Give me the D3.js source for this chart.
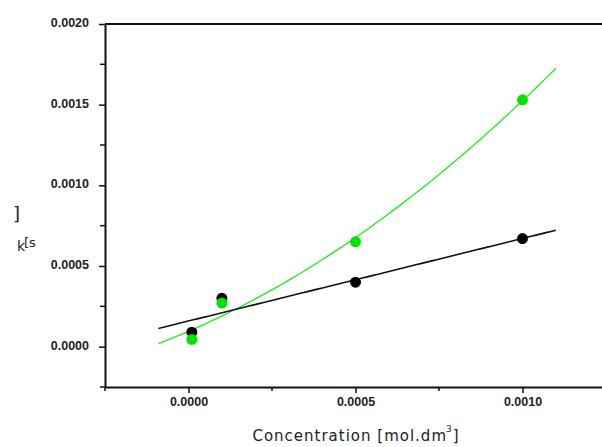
<!DOCTYPE html>
<html>
<head>
<meta charset="utf-8">
<script src="https://cdn.jsdelivr.net/npm/d3@7"></script>
<style>
  html, body { margin: 0; padding: 0; background: #fff; }
  svg { display: block; }
  .tick text { font-family: "Liberation Sans", Arial, sans-serif; font-weight: bold; font-size: 12.5px; fill: #222; }
</style>
</head>
<body>
<svg id="chart" width="602" height="447"></svg>
<script>
// Concentration (mol/dm^3) for each measurement
const concentration = [0.00001, 0.0001, 0.0005, 0.0010];
// Rate constants k (s^-1) for the two series
const kBlack = [0.00009, 0.00030, 0.00040, 0.00067];
const kGreen = [0.000045, 0.00027, 0.00065, 0.00153];

// Axis ticks and labels
const xMajorTicks = [0, 0.0005, 0.0010];
const xTickLabels = ["0.0000", "0.0005", "0.0010"];
const xMinorTicks = [-0.00025, 0.00025, 0.00075];
const yMajorTicks = [0, 0.0005, 0.0010, 0.0015, 0.0020];
const yTickLabels = ["0.0000", "0.0005", "0.0010", "0.0015", "0.0020"];
const yMinorTicks = [-0.00025, 0.00025, 0.00075, 0.00125, 0.00175];

// Range covered by the fitted curves
const fitRange = [-0.00009, 0.0011];

const svg = d3.select("#chart");

const x = d3.scaleLinear().domain([-0.00025, 0.00125]).range([105, 606]);
const y = d3.scaleLinear().domain([-0.00025, 0.0020]).range([387, 24]);

// Least-squares polynomial fit (degree n) of ys on xs; returns coefficient array
function polyFit(xs, ys, n) {
  const m = n + 1;
  const A = Array.from({length: m}, () => new Array(m + 1).fill(0));
  xs.forEach((xv, i) => {
    for (let r = 0; r < m; r++) {
      for (let c = 0; c < m; c++) A[r][c] += Math.pow(xv, r + c);
      A[r][m] += ys[i] * Math.pow(xv, r);
    }
  });
  for (let p = 0; p < m; p++) {
    let best = p;
    for (let r = p + 1; r < m; r++) if (Math.abs(A[r][p]) > Math.abs(A[best][p])) best = r;
    [A[p], A[best]] = [A[best], A[p]];
    for (let r = 0; r < m; r++) {
      if (r === p) continue;
      const f = A[r][p] / A[p][p];
      for (let c = p; c <= m; c++) A[r][c] -= f * A[p][c];
    }
  }
  return A.map((row, i) => row[m] / row[i]);
}
const evalPoly = (coef, xv) => coef.reduce((s, c, i) => s + c * Math.pow(xv, i), 0);

const blackFit = polyFit(concentration, kBlack, 1);
const greenFit = polyFit(concentration, kGreen, 2);

const samples = d3.range(0, 81).map(i => fitRange[0] + (fitRange[1] - fitRange[0]) * i / 80);
const line = d3.line().x(d => x(d[0])).y(d => y(d[1]));

// Fitted curves
svg.append("path")
  .datum(samples.map(v => [v, evalPoly(greenFit, v)]))
  .attr("d", line).attr("fill", "none")
  .attr("stroke", "#19f019").attr("stroke-width", 1.3);
svg.append("path")
  .datum(samples.map(v => [v, evalPoly(blackFit, v)]))
  .attr("d", line).attr("fill", "none")
  .attr("stroke", "#111").attr("stroke-width", 1.6);

// Data points
svg.append("g").selectAll("circle")
  .data(concentration.map((c, i) => [c, kBlack[i]]))
  .join("circle")
  .attr("cx", d => x(d[0])).attr("cy", d => y(d[1])).attr("r", 5.5)
  .attr("fill", "#000");
svg.append("g").selectAll("circle")
  .data(concentration.map((c, i) => [c, kGreen[i]]))
  .join("circle")
  .attr("cx", d => x(d[0])).attr("cy", d => y(d[1])).attr("r", 5.5)
  .attr("fill", "#00e400");

// Top frame line
svg.append("line")
  .attr("x1", x.range()[0]).attr("x2", 602)
  .attr("y1", y(0.0020)).attr("y2", y(0.0020))
  .attr("stroke", "#111").attr("stroke-width", 2);

// Y axis
const yAxis = svg.append("g").attr("transform", `translate(${x.range()[0]},0)`)
  .call(d3.axisLeft(y).tickValues(yMajorTicks)
    .tickFormat((d, i) => yTickLabels[i]).tickSize(6).tickSizeOuter(0).tickPadding(10));
yAxis.append("g").selectAll("line").data(yMinorTicks).join("line")
  .attr("x1", 0).attr("x2", -5).attr("y1", d => y(d)).attr("y2", d => y(d))
  .attr("stroke", "#111").attr("stroke-width", 1.5);
yAxis.selectAll(".tick text").attr("dy", "0.2em");

// X axis
const xAxis = svg.append("g").attr("transform", `translate(0,${y.range()[0]})`)
  .call(d3.axisBottom(x).tickValues(xMajorTicks)
    .tickFormat((d, i) => xTickLabels[i]).tickSize(6).tickSizeOuter(0).tickPadding(4));
xAxis.append("g").selectAll("line").data(xMinorTicks).join("line")
  .attr("x1", d => x(d)).attr("x2", d => x(d)).attr("y1", 0).attr("y2", 4)
  .attr("stroke", "#111").attr("stroke-width", 1.5);

svg.selectAll(".domain").attr("stroke", "#111").attr("stroke-width", 2);
svg.selectAll(".tick line").attr("stroke", "#111").attr("stroke-width", 1.5);

// Axis titles
const xTitle = svg.append("text")
  .attr("x", 356).attr("y", 441)
  .attr("text-anchor", "middle")
  .attr("font-family", "'DejaVu Sans', sans-serif").attr("font-size", 15)
  .attr("letter-spacing", 1)
  .attr("fill", "#222");
xTitle.append("tspan").text("Concentration [mol.dm");
xTitle.append("tspan").attr("font-size", 9).attr("dy", -9).attr("dx", -1).text("3");
xTitle.append("tspan").attr("dy", 9).text("]");

const yTitle = svg.append("g")
  .attr("font-family", "'DejaVu Sans', sans-serif").attr("fill", "#222");
yTitle.append("text").attr("x", 13).attr("y", 220).attr("font-size", 18).text("]");
yTitle.append("text").attr("x", 17).attr("y", 251).attr("font-size", 14).text("k");
yTitle.append("text").attr("x", 24).attr("y", 247).attr("font-size", 13).text("[s");
</script>
</body>
</html>
